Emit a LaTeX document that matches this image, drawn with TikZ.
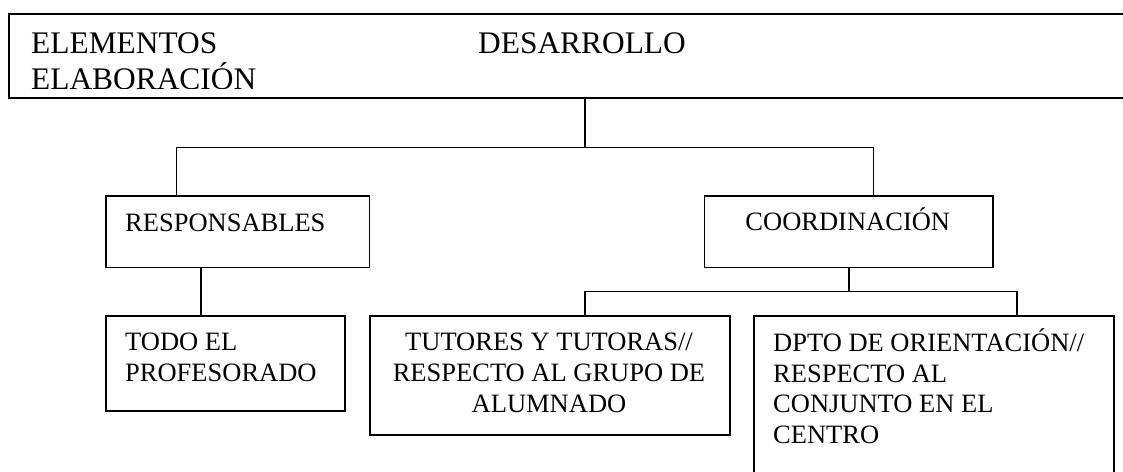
\documentclass[tikz,border=0pt]{standalone}
\usepackage{fontspec}
\setmainfont{Liberation Serif}
\usetikzlibrary{calc}
\tikzset{
  boxframe/.style={draw=black, line width=1.5pt, rectangle, anchor=north west, inner sep=0pt},
  conn/.style={draw=black, line width=1.3pt},
  lowtxt/.style={inner sep=0pt, font=\fontsize{26.5}{31}\selectfont},
  toptxt/.style={inner sep=0pt, font=\fontsize{31.4}{36}\selectfont}
}
\begin{document}
\begin{tikzpicture}[x=1pt, y=-1pt]
\useasboundingbox (0,0) rectangle (1123,471);
\clip (0,0) rectangle (1123,471);
% header box (extends beyond right edge)
\node[boxframe, line width=1.8pt, minimum width=1130pt, minimum height=84pt] (hdr) at (8.4,13) {};
\begin{scope}
\clip (10,15) rectangle (1123,88.5);
\node[toptxt, anchor=base west] (telem) at (31,53.5) {ELEMENTOS};
\node[toptxt, anchor=base west] (tdes) at (478,53.5) {DESARROLLO};
\node[toptxt, anchor=base west] (telab) at (31,89.5) {ELABORACIÓN};
\end{scope}
% boxes
\node[boxframe, minimum width=263.6pt, minimum height=71.7pt] (resp) at (105,195) {};
\node[boxframe, minimum width=288.4pt, minimum height=71.7pt] (coord) at (703.6,195) {};
\node[boxframe, minimum width=239pt, minimum height=95pt] (todo) at (105,315) {};
\node[boxframe, minimum width=360pt, minimum height=119pt] (tut) at (369,315) {};
\node[boxframe, minimum width=360pt, minimum height=180pt] (dpto) at (753,315) {};
% texts
\node[lowtxt, anchor=base west] (tresp) at (125,231.7) {RESPONSABLES};
\node[lowtxt, anchor=base] (tcoord) at (847.8,230) {COORDINACIÓN};
\node[lowtxt, anchor=base west] (ttodo1) at (125,350) {TODO EL};
\node[lowtxt, anchor=base west] (ttodo2) at (125,381) {PROFESORADO};
\node[lowtxt, anchor=base] (ttut1) at (549,350) {TUTORES Y TUTORAS//};
\node[lowtxt, anchor=base] (ttut2) at (549,381) {RESPECTO AL GRUPO DE};
\node[lowtxt, anchor=base] (ttut3) at (549,412) {ALUMNADO};
\node[lowtxt, anchor=base west] (tdp1) at (773,351) {DPTO DE ORIENTACIÓN//};
\node[lowtxt, anchor=base west] (tdp2) at (773,382) {RESPECTO AL};
\node[lowtxt, anchor=base west] (tdp3) at (773,412) {CONJUNTO EN EL};
\node[lowtxt, anchor=base west] (tdp4) at (773,443) {CENTRO};
% connectors
\coordinate (jtop) at (585,147.3);
\coordinate (jl) at (176.8,147.3);
\coordinate (jr) at (873.5,147.3);
\coordinate (jb) at (849,291.7);
\coordinate (jbl) at (585,291.7);
\coordinate (jbr) at (1017,291.7);
\draw[conn] (hdr.south -| jtop) -- (jtop);
\draw[conn] (jl |- resp.north) -- (jl) -- (jr) -- (jr |- coord.north);
\draw[conn] ($(resp.south west)+(96,0)$) -- ($(todo.north west)+(96,0)$);
\draw[conn] (coord.south -| jb) -- (jb);
\draw[conn] (jbl |- tut.north) -- (jbl) -- (jbr) -- (jbr |- dpto.north);
\end{tikzpicture}
\end{document}
